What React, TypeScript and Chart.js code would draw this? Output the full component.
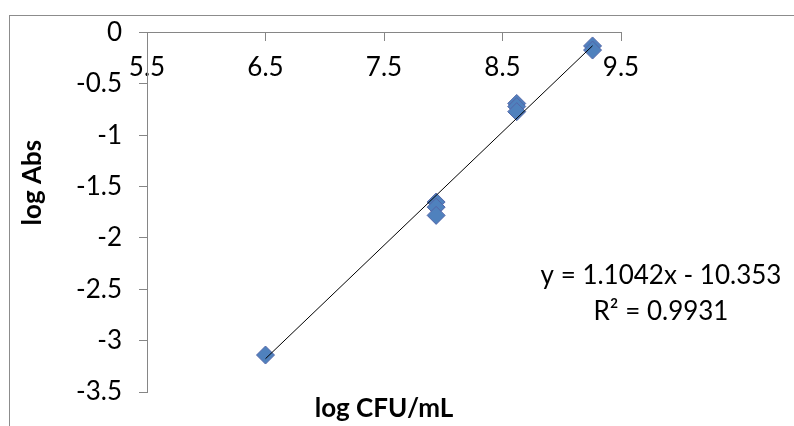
import React, { useEffect, useRef } from "react";
import { Chart, registerables } from "chart.js";

Chart.register(...registerables);

// ---- data ----
const xValues = [6.5, 7.94, 7.94, 7.94, 8.62, 8.62, 8.62, 9.26, 9.26];
const yValues = [-3.14, -1.65, -1.7, -1.78, -0.69, -0.72, -0.77, -0.13, -0.17];
const trendSlope = 1.1042;
const trendIntercept = -10.353;
const rSquared = 0.9931;
const xTicks = [5.5, 6.5, 7.5, 8.5, 9.5];
const yTicks = [0, -0.5, -1, -1.5, -2, -2.5, -3, -3.5];
const xTitle = "log CFU/mL";
const yTitle = "log Abs";

const FONT = "Lato";
const AXIS_GRAY = "#868686";

export default function App() {
  const canvasRef = useRef<HTMLCanvasElement | null>(null);

  useEffect(() => {
    document.body.style.margin = "0";
    const canvas = canvasRef.current;
    if (!canvas) return;

    const points = xValues.map((x, i) => ({ x, y: yValues[i] }));
    const xmin = Math.min(...xValues);
    const xmax = Math.max(...xValues);
    const trend = [xmin, xmax].map((x) => ({ x, y: trendSlope * x + trendIntercept }));

    const textPlugin = {
      id: "texts",
      afterDraw(chart: any) {
        const { ctx, chartArea } = chart;
        ctx.save();
        ctx.fillStyle = "#000";
        ctx.textAlign = "center";
        ctx.textBaseline = "middle";
        ctx.font = `bold 26px ${FONT}`;
        ctx.fillText(xTitle, (chartArea.left + chartArea.right) / 2, chartArea.bottom + 17);
        ctx.save();
        ctx.translate(33, chartArea.top + 150);
        ctx.rotate(-Math.PI / 2);
        ctx.fillText(yTitle, 0, 0);
        ctx.restore();
        ctx.font = `26px ${FONT}`;
        const eq = `y = ${trendSlope}x ${trendIntercept < 0 ? "-" : "+"} ${Math.abs(trendIntercept)}`;
        ctx.fillText(eq, chartArea.right + 40, chartArea.top + 243);
        ctx.fillText(`R\u00B2 = ${rSquared}`, chartArea.right + 40, chartArea.top + 279);
        ctx.restore();
      },
    };

    const chart = new Chart(canvas, {
      type: "scatter",
      data: {
        datasets: [
          {
            type: "line",
            data: trend,
            borderColor: "#000",
            borderWidth: 1,
            pointRadius: 0,
            fill: false,
          } as any,
          {
            data: points,
            pointStyle: "rectRot",
            pointRadius: 9,
            backgroundColor: "#4F81BD",
            borderColor: "#5466A8",
            borderWidth: 1,
          },
        ],
      },
      options: {
        animation: false,
        responsive: false,
        devicePixelRatio: 1,
        layout: { padding: { top: 32, right: 173, bottom: 34, left: 0 } },
        plugins: { legend: { display: false }, tooltip: { enabled: false } },
        scales: {
          x: {
            type: "linear",
            position: { y: 0 } as any,
            min: 5.5,
            max: 9.5,
            afterBuildTicks: (s: any) => {
              s.ticks = xTicks.map((v) => ({ value: v }));
            },
            grid: {
              display: true,
              drawOnChartArea: false,
              drawTicks: true,
              tickLength: 8,
              color: AXIS_GRAY,
              lineWidth: 1,
            },
            border: { display: true, color: AXIS_GRAY, width: 1 },
            ticks: {
              color: "#000",
              font: { family: FONT, size: 26 },
              padding: 11,
              maxRotation: 0,
              autoSkip: false,
              callback: (v: any) => String(v),
            },
          },
          y: {
            type: "linear",
            position: "left",
            min: -3.5,
            max: 0,
            afterBuildTicks: (s: any) => {
              s.ticks = yTicks.map((v) => ({ value: v }));
            },
            afterFit: (s: any) => {
              s.width = 147;
            },
            grid: {
              display: true,
              drawOnChartArea: false,
              drawTicks: true,
              tickLength: 8,
              color: AXIS_GRAY,
              lineWidth: 1,
            },
            border: { display: true, color: AXIS_GRAY, width: 1 },
            ticks: {
              color: "#000",
              font: { family: FONT, size: 26 },
              padding: 17,
              autoSkip: false,
              callback: (v: any) => String(v),
            },
          },
        },
      },
      plugins: [textPlugin],
    });

    return () => chart.destroy();
  }, []);

  return (
    <div
      style={{
        position: "fixed",
        left: 0,
        top: 0,
        width: 794,
        height: 426,
        overflow: "hidden",
        background: "#fff",
      }}
    >
      <div
        style={{
          position: "absolute",
          left: 9,
          top: 15,
          width: 900,
          height: 600,
          border: "1px solid #8c8c8c",
          boxSizing: "border-box",
        }}
      />
      <canvas
        ref={canvasRef}
        width={794}
        height={426}
        style={{ position: "absolute", left: 0, top: 0, display: "block" }}
      />
    </div>
  );
}
